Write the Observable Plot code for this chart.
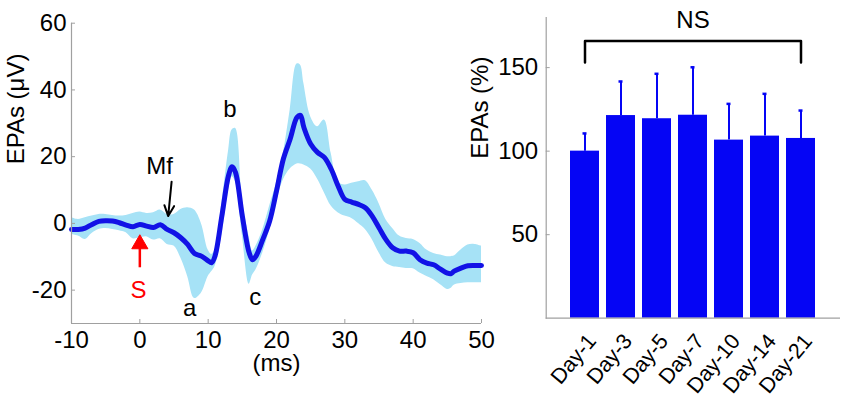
<!DOCTYPE html>
<html>
<head>
<meta charset="utf-8">
<script src="https://cdn.jsdelivr.net/npm/d3@7"></script>
<script src="https://cdn.jsdelivr.net/npm/@observablehq/plot@0.6"></script>
<style>
  body { margin: 0; background: white; }
  #wrap { position: relative; width: 850px; height: 404px; overflow: hidden; background: white; }
  #left, #right { position: absolute; top: 0; }
  #left { left: 0; }
  #right { left: 460px; }
</style>
</head>
<body>
<div id="wrap"><div id="left"></div><div id="right"></div></div>
<script>
// ---- Left panel: evoked potential (mean ± band) ----
const timeMs = [-10,-9,-8,-7,-6,-5,-4,-3,-2,-1,0,1,2,3,4,5,6,7,8,9,10,10.5,11,12,13,13.5,14,15,16,16.5,17,18,19,20,21,22,23,23.5,24,25,26,27,28,29,30,31,32,33,34,35,36,37,38,39,40,41,42,43,44,45,45.5,46,47,48,49,50];
const meanUV = [-1.8,-1.8,-1.4,-0.3,0.6,0.8,0.7,0.2,-0.5,-1.0,-0.3,-0.8,-1.2,-0.4,-1.8,-2.8,-4.3,-6.3,-9.0,-9.8,-11.2,-11.8,-9.8,2.2,14.5,17.0,15.3,2.2,-8.8,-10.9,-9.8,-4.8,0.7,9.7,19.3,25.3,31.8,32.4,28.8,23.8,21.3,19.8,16.3,11.3,7.2,6.4,5.7,4.7,2.2,-1.3,-4.8,-7.3,-8.3,-8.3,-8.8,-10.9,-11.9,-12.4,-13.7,-14.9,-15.1,-14.3,-13.4,-12.7,-12.6,-12.6];
const upperUV = [1.7,1.2,1.7,2.2,2.7,2.7,2.4,2.2,2.4,3.0,3.4,3.0,3.2,4.0,2.7,2.7,4.2,4.7,4.0,0.0,-8.0,-9.3,-8.0,6.0,22.0,28.0,28.5,7.2,-4.0,-8.3,-6.8,-1.8,5.2,12.0,21.0,34.0,47.8,47.5,42.0,32.0,29.0,31.0,21.0,12.5,11.5,12.0,12.5,12.8,10.0,6.0,1.2,-1.5,-3.8,-4.5,-4.8,-6.0,-8.0,-9.0,-9.5,-10.0,-10.0,-9.8,-8.0,-6.5,-6.3,-6.8];
const lowerUV = [-3.3,-3.8,-4.8,-3.0,-1.8,-1.5,-1.8,-2.2,-2.8,-4.6,-4.3,-4.0,-5.0,-4.6,-6.3,-6.8,-10.4,-15.9,-22.5,-20.9,-15.9,-14.5,-12.9,-3.5,10.0,14.0,12.5,-3.5,-18.2,-15.5,-13.9,-8.8,-2.0,6.5,13.0,16.3,17.8,17.8,17.5,16.3,13.3,9.2,5.2,3.2,2.2,1.5,0.0,-1.8,-4.8,-8.8,-11.9,-12.9,-13.2,-13.5,-13.6,-14.9,-15.9,-16.9,-18.4,-19.8,-19.5,-18.5,-18.0,-17.8,-17.8,-17.8];
const leftXTicks = [-10,0,10,20,30,40,50];
const leftYTicks = [-20,0,20,40,60];
const annText = ["a","b","c","Mf","S"];
const annX = [7.3,13.2,16.9,2.9,-0.2];
const annY = [-25.3,34.2,-22.3,17.2,-20.0];
const annColor = ["black","black","black","black","red"];
// Mf arrow (open head)
const mfArrowX1 = [4.65], mfArrowY1 = [12.5], mfArrowX2 = [4.15], mfArrowY2 = [2.2];
// S arrow (filled head)
const sArrowX = [0], sArrowY1 = [-13.3], sArrowY2 = [-7.0], sHeadY = [-6.2];

// ---- Right panel: EPAs by day ----
const days = ["Day-1","Day-3","Day-5","Day-7","Day-10","Day-14","Day-21"];
const epaPct = [100,121.3,119.4,121.5,106.6,109,107.6];
const epaErrTop = [110.6,141.7,146.3,150.2,128.3,134.3,124.3];
const rightYTicks = [50,100,150];
const bracketX = ["Day-1","Day-1","Day-21","Day-21"];
const bracketY = [153,166,166,153];

const FONT = "Liberation Sans, Arial, Helvetica, sans-serif";
const axisGray = "#a0a0a0";
const fmt = d => String(d);

const series = timeMs.map((t,i) => ({t, m: meanUV[i], hi: upperUV[i], lo: lowerUV[i]}));
const ann = annText.map((s,i) => ({s, x: annX[i], y: annY[i], c: annColor[i]}));
const mfArrow = mfArrowX1.map((x,i) => ({x1: x, y1: mfArrowY1[i], x2: mfArrowX2[i], y2: mfArrowY2[i]}));
const sArrow = sArrowX.map((x,i) => ({x, y1: sArrowY1[i], y2: sArrowY2[i], yh: sHeadY[i]}));

const LW = 500, LH = 404, LML = 71, LMR = 19, LMT = 22.7, LMB = 81;
const leftPlot = Plot.plot({
  width: LW, height: LH,
  marginLeft: LML, marginRight: LMR, marginTop: LMT, marginBottom: LMB,
  style: {fontFamily: FONT, fontSize: "24px", background: "transparent", color: "black"},
  x: {domain: [-10, 50]},
  y: {domain: [-30, 60]},
  marks: [
    Plot.areaY(series, {x: "t", y1: "lo", y2: "hi", fill: "#a6e2f6", curve: "catmull-rom"}),
    Plot.line(series, {x: "t", y: "m", stroke: "#1212e6", strokeWidth: 5, curve: "catmull-rom"}),
    Plot.ruleX([-10], {stroke: axisGray, strokeWidth: 1.2}),
    Plot.ruleY([-30], {stroke: axisGray, strokeWidth: 1.2}),
    Plot.tickY(leftYTicks, {y: d => d, insetRight: LW - LML - LMR - 4, stroke: axisGray}),
    Plot.tickX(leftXTicks, {x: d => d, insetTop: LH - LMT - LMB - 4, stroke: axisGray}),
    Plot.axisY({ticks: leftYTicks, tickSize: 0, tickPadding: 5, label: null, fontSize: 24, tickFormat: fmt}),
    Plot.axisX({ticks: leftXTicks, tickSize: 0, tickPadding: 7, label: null, fontSize: 24, tickFormat: fmt}),
    Plot.text(["EPAs (μV)"], {frameAnchor: "left", dx: -55, dy: -9, rotate: -90, fontSize: 24, fill: "black"}),
    Plot.text(["(ms)"], {frameAnchor: "bottom", dy: 47, fontSize: 24, fill: "black"}),
    Plot.text(ann, {x: "x", y: "y", text: "s", fill: "c", fontSize: 24}),
    Plot.arrow(mfArrow, {x1: "x1", y1: "y1", x2: "x2", y2: "y2", stroke: "black", strokeWidth: 2, headLength: 11, headAngle: 50}),
    Plot.ruleX(sArrow, {x: "x", y1: "y1", y2: "y2", stroke: "red", strokeWidth: 2.5}),
    Plot.dot(sArrow, {x: "x", y: "yh", symbol: "triangle", r: 6, fill: "red", stroke: "red", strokeWidth: 1})
  ]
});
document.getElementById("left").appendChild(leftPlot);

const bars = days.map((d,i) => ({d, v: epaPct[i], e: epaErrTop[i]}));
const bracket = bracketX.map((x,i) => ({x, y: bracketY[i]}));
const RW = 390, RH = 404, RML = 85.7, RMR = 10, RMT = 17, RMB = 86.3;
const rightPlot = Plot.plot({
  width: RW, height: RH,
  marginLeft: RML, marginRight: RMR, marginTop: RMT, marginBottom: RMB,
  style: {fontFamily: FONT, fontSize: "24px", background: "transparent", color: "black"},
  x: {domain: days, paddingInner: 0.2, paddingOuter: 0.6},
  y: {domain: [0, 180]},
  marks: [
    Plot.ruleX(bars, {x: "d", y1: "v", y2: "e", stroke: "#0505f5", strokeWidth: 2}),
    Plot.tickY(bars, {x: "d", y: "e", stroke: "#0505f5", strokeWidth: 2.5, insetLeft: 12.5, insetRight: 12.5}),
    Plot.barY(bars, {x: "d", y: "v", fill: "#0505f5"}),
    Plot.frame({anchor: "left", stroke: axisGray, strokeWidth: 1.2}),
    Plot.ruleY([0], {stroke: axisGray, strokeWidth: 1.2}),
    Plot.tickY(rightYTicks, {y: d => d, insetRight: RW - RML - RMR - 4, stroke: axisGray}),
    Plot.axisY({ticks: rightYTicks, tickSize: 0, tickPadding: 8, label: null, fontSize: 24, tickFormat: fmt}),
    Plot.axisX({tickSize: 0, tickPadding: 19, tickRotate: -50, dx: 7, label: null, fontSize: 21.5}),
    Plot.text(["EPAs (%)"], {frameAnchor: "left", dx: -66, dy: -9, rotate: -90, fontSize: 24, fill: "black"}),
    Plot.line(bracket, {x: "x", y: "y", stroke: "black", strokeWidth: 2.5}),
    Plot.text(["NS"], {x: ["Day-7"], y: [178.3], fontSize: 24, fill: "black"})
  ]
});
document.getElementById("right").appendChild(rightPlot);
</script>
</body>
</html>
